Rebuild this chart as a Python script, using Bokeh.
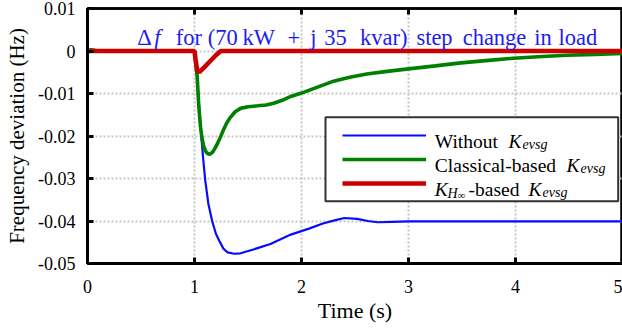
from bokeh.plotting import figure
from bokeh.models import (Label, LinearAxis, FixedTicker, BoxAnnotation, Legend,
                          LegendItem, Range1d)
from bokeh.embed import file_html
from bokeh.resources import INLINE

# ---------------- data ----------------
t_blue = [0.0, 1.0, 1.02, 1.04, 1.06, 1.08, 1.10, 1.13, 1.165, 1.20, 1.23, 1.27,
          1.31, 1.37, 1.43, 1.55, 1.71, 1.90, 2.07, 2.20, 2.30, 2.40, 2.52, 2.62,
          2.71, 2.85, 3.0, 4.0, 5.0]
v_blue = [0.0, 0.0, -0.005, -0.012, -0.019, -0.025, -0.0304, -0.036, -0.040,
          -0.0430, -0.0446, -0.0465, -0.0474, -0.0477, -0.0476, -0.0467, -0.0454,
          -0.0432, -0.0418, -0.0406, -0.0399, -0.0393, -0.0395, -0.0400, -0.0403,
          -0.0402, -0.0401, -0.0401, -0.0401]

t_green = [0.0, 0.03, 0.06, 0.10, 1.0, 1.025, 1.04, 1.056, 1.07, 1.087, 1.105,
           1.12, 1.143, 1.17, 1.20, 1.22, 1.25, 1.27, 1.30, 1.33, 1.38, 1.43, 1.50,
           1.59, 1.67, 1.74, 1.82, 1.90, 2.0, 2.15, 2.30, 2.45, 2.61, 2.80, 3.0,
           3.25, 3.49, 3.75, 3.98, 4.25, 4.48, 4.75, 5.0]
v_green = [0.0, 0.0003, 0.0002, 0.0, 0.0, -0.006, -0.013, -0.0178, -0.0205,
           -0.0225, -0.0236, -0.0241, -0.0243, -0.0238, -0.0225, -0.0215, -0.0198,
           -0.0186, -0.0170, -0.0158, -0.0143, -0.0135, -0.0131, -0.0129, -0.0127,
           -0.0123, -0.0116, -0.0107, -0.0099, -0.0085, -0.0071, -0.0062, -0.0054,
           -0.0048, -0.0042, -0.0035, -0.0028, -0.0022, -0.0017, -0.0013, -0.0010,
           -0.0008, -0.0006]

t_red = [0.0, 1.0, 1.01, 1.025, 1.045, 1.10, 1.15, 1.20, 1.245, 5.0]
v_red = [0.0, 0.0, -0.002, -0.0045, -0.0050, -0.0036, -0.0023, -0.0010, 0.0, 0.0]

x_ticks = [0, 1, 2, 3, 4, 5]
x_tick_labels = ["0", "1", "2", "3", "4", "5"]
y_ticks = [0.01, 0.0, -0.01, -0.02, -0.03, -0.04, -0.05]
y_tick_labels = ["0.01", "0", "-0.01", "-0.02", "-0.03", "-0.04", "-0.05"]

series_names = ["Without", "Classical-based", "-based"]
title_words = ["\u0394", "f", "for", "(70", "kW", "+", "j", "35", "kvar)",
               "step", "change", "in", "load"]

# ---------------- layout helpers (page pixel -> data) ----------------
X_MIN, X_MAX = 0.0, 5.0
Y_MIN, Y_MAX = -0.05, 0.01
FRAME_L, FRAME_W = 87.0, 535.0
FRAME_T, FRAME_H = 8.0, 255.0


def px2t(px):
    return X_MIN + (px - FRAME_L) / FRAME_W * (X_MAX - X_MIN)


def py2v(py):
    return Y_MAX - (py - FRAME_T) / FRAME_H * (Y_MAX - Y_MIN)


SERIF = "Liberation Serif"

p = figure(width=630, height=340, x_range=Range1d(X_MIN, X_MAX),
           y_range=Range1d(Y_MIN, Y_MAX), output_backend="svg",
           toolbar_location=None, min_border_left=95, min_border_right=0,
           min_border_top=16, min_border_bottom=69, margin=(-8, -8, 0, -8))
p.background_fill_color = "white"
p.border_fill_color = "white"
p.outline_line_color = "black"
p.outline_line_width = 2.5

# main axes
xa = p.xaxis[0]
ya = p.yaxis[0]
xa.ticker = FixedTicker(ticks=x_ticks)
ya.ticker = FixedTicker(ticks=y_ticks)
xa.major_label_overrides = {t: s for t, s in zip(x_ticks, x_tick_labels)}
ya.major_label_overrides = {t: s for t, s in zip(y_ticks, y_tick_labels)}
for ax in (xa, ya):
    ax.axis_line_width = 3
    ax.axis_line_color = "black"
    ax.major_tick_in = 6
    ax.major_tick_out = 0
    ax.major_tick_line_width = 3
    ax.minor_tick_line_color = None
    ax.major_label_text_font = SERIF
    ax.major_label_text_font_size = "18px"
    ax.major_label_text_color = "black"
    ax.axis_label_text_font = SERIF
    ax.axis_label_text_font_style = "normal"
    ax.axis_label_text_color = "black"
xa.major_label_standoff = 16
ya.major_label_standoff = 12
xa.axis_label = "Time (s)"
xa.axis_label_text_font_size = "22px"
xa.axis_label_standoff = 2
ya.axis_label = "Frequency deviation (Hz)"
ya.axis_label_text_font_size = "21px"
ya.axis_label_standoff = 6

# mirrored top axis (ticks only, no labels)
top = LinearAxis(ticker=FixedTicker(ticks=x_ticks), major_label_text_font_size="0px",
                 major_label_text_color=None, major_label_standoff=0,
                 axis_label_standoff=0, major_tick_in=6, major_tick_out=0,
                 major_tick_line_width=3, axis_line_width=2.5,
                 minor_tick_line_color=None)
p.add_layout(top, "above")

# grid
p.xgrid.ticker = FixedTicker(ticks=x_ticks)
p.ygrid.ticker = FixedTicker(ticks=y_ticks)
for g in (p.xgrid, p.ygrid):
    g.grid_line_color = "#c4c4c4"
    g.grid_line_width = 2
    g.grid_line_dash = "2 2"

# curves
rb = p.line(t_blue, v_blue, line_color="#0a0aff", line_width=2.2)
rg = p.line(t_green, v_green, line_color="#008000", line_width=3.6)
rr = p.line(t_red, v_red, line_color="#cc0000", line_width=4.6)

# title text inside the plot (each word centred where the reference shows it)
title_px = [144, 157, 188.3, 222.3, 258.3, 293.3, 313, 335, 383.3, 434, 494,
            542.5, 577.3]
for w, px in zip(title_words, title_px):
    p.add_layout(Label(x=px2t(px), y=py2v(37), text=w, text_font=SERIF,
                       text_font_size="22.5px", text_color="#1c1cf0",
                       text_font_style="italic" if w == "f" else "normal",
                       text_baseline="alphabetic", text_align="center"))

# legend frame
p.add_layout(BoxAnnotation(left=px2t(325), right=px2t(617.7), top=py2v(116.7),
                           bottom=py2v(200.7), fill_color="white", fill_alpha=1.0,
                           line_color="#333333", line_width=2, line_alpha=1.0))

# legend samples (library legend, text added as rich labels below)
leg = Legend(items=[LegendItem(label=" ", renderers=[r]) for r in (rb, rg, rr)],
             location=(255, 68), margin=0, padding=0, spacing=0,
             glyph_width=84, glyph_height=24, label_height=24, label_width=0,
             label_standoff=0, label_text_font_size="8px",
             border_line_alpha=0, background_fill_alpha=0)
p.add_layout(leg)

LEG_FS = "19.5px"
SUB_FS = "14px"
rows = [135, 159, 183]


def leg_text(px, row, text, size=LEG_FS, italic=False, drop=6):
    p.add_layout(Label(x=px2t(px), y=py2v(row + drop), text=text, text_font=SERIF,
                       text_font_size=size, text_color="black",
                       text_font_style="italic" if italic else "normal",
                       text_baseline="alphabetic", text_align="left"))


# row 1
leg_text(434.3, rows[0], series_names[0])
leg_text(508, rows[0], "K", italic=True)
leg_text(522, rows[0], "evsg", size=SUB_FS, italic=True, drop=9)
# row 2
leg_text(434.3, rows[1], series_names[1])
leg_text(566, rows[1], "K", italic=True)
leg_text(580, rows[1], "evsg", size=SUB_FS, italic=True, drop=9)
# row 3
leg_text(434.3, rows[2], "K", italic=True)
leg_text(447, rows[2], "H", size=SUB_FS, italic=True, drop=10)
leg_text(457, rows[2], "\u221e", size="11px", drop=11)
leg_text(468, rows[2], series_names[2])
leg_text(528, rows[2], "K", italic=True)
leg_text(542, rows[2], "evsg", size=SUB_FS, italic=True, drop=9)

open("out.html", "w").write(file_html(p, INLINE))
